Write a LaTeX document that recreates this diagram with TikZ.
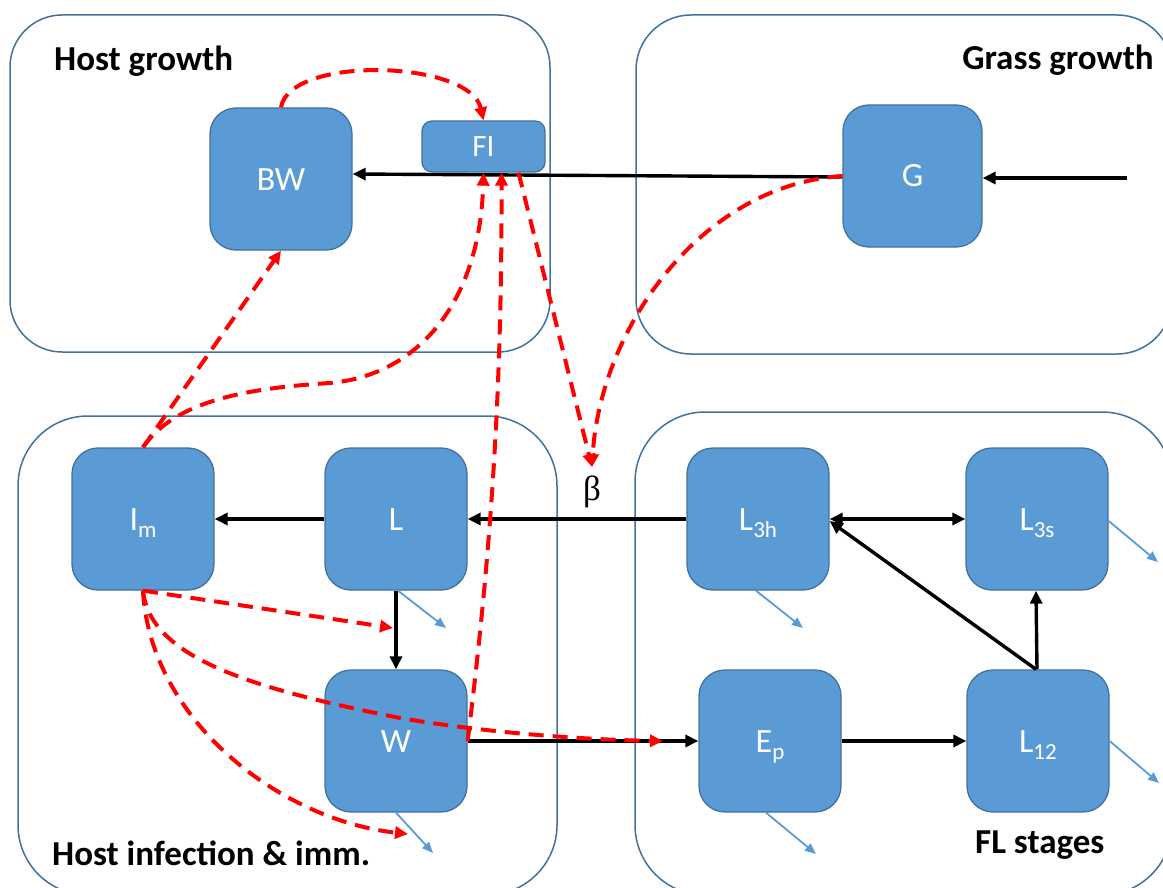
\documentclass[tikz,border=0pt]{standalone}
\usepackage{fontspec}
\setmainfont{Carlito}
\newfontfamily\greekserif{Liberation Serif}
\usetikzlibrary{arrows.meta,calc}
\definecolor{nodeblue}{HTML}{5B9BD5}
\definecolor{nodeedge}{HTML}{41719C}
\definecolor{panelline}{HTML}{41719C}
% lowered, smaller subscript for compartment names
\newcommand\lowsub[1]{\raisebox{-0.23em}{\fontsize{23}{24}\selectfont #1}}

\begin{document}
\begin{tikzpicture}[x=1pt,y=-1pt,
  panel/.style={draw=panelline, line width=1.5pt, rounded corners=#1},
  box/.style={draw=nodeedge, line width=1.3pt, fill=nodeblue, rounded corners=26pt,
    minimum width=142pt, minimum height=142pt, inner sep=0pt, text=white,
    font=\fontsize{34}{40}\selectfont, text height=22pt, text depth=0pt},
  title/.style={anchor=base west, font=\bfseries\fontsize{35}{40}\selectfont, inner sep=0pt},
  flow/.style={draw=black, line width=3.4pt, -{Triangle[length=13pt,width=12pt]}},
  flowboth/.style={draw=black, line width=3.4pt,
    {Triangle[length=13pt,width=12pt]}-{Triangle[length=13pt,width=12pt]}},
  effect/.style={draw=red, line width=4pt, dash pattern=on 15pt off 9pt,
    -{Triangle[length=13pt,width=12pt]}},
  loss/.style={draw=nodeblue, line width=1.8pt, -{Triangle[length=11pt,width=9pt]}}
]
\useasboundingbox (0,0) rectangle (1163,888);

% sub-model panels
\draw[panel=52pt] (10,15) rectangle (550,352);
\draw[panel=55pt] (636,15) rectangle (1172,354);
\draw[panel=70pt] (18,416) rectangle (557,895);
\draw[panel=70pt] (635,412) rectangle (1172,895);

\node[title] (thg) at (54,71) {Host growth};
\node[title, anchor=base east] (tgg) at (1154,70) {Grass growth};
\node[title] (thi) at (52,865) {Host infection \& imm.};
\node[title] (tfl) at (975,853) {FL stages};

% compartments
\node[box] (BW) at (281,179) {BW};
\node[box, minimum width=123pt, minimum height=51pt, rounded corners=10pt,
  font=\fontsize{31}{34}\selectfont, text height=20pt] (FI) at (483.5,146.5) {FI};
\node[box, minimum width=139pt] (G) at (912.5,176) {G};
\node[box] (Im) at (143,519) {I\lowsub{m}};
\node[box] (L) at (396,519) {L};
\node[box] (W) at (396,741) {W};
\node[box] (L3h) at (758,519) {L\lowsub{3h}};
\node[box] (L3s) at (1037,519) {L\lowsub{3s}};
\node[box] (Ep) at (770,741) {E\lowsub{p}};
\node[box] (L12) at (1038,741) {L\lowsub{12}};

\node[inner sep=0pt, font=\greekserif\fontsize{35}{40}\selectfont] (beta) at (592,492) {β};

% free ends
\coordinate (grassin) at (1127,178);
\coordinate (betain) at (592,467);
\coordinate (lw) at (393,628);
\coordinate (epin) at (663,741);
\coordinate (wbot) at (408,834);
\coordinate (mL) at (446,628);
\coordinate (mW) at (433,853);
\coordinate (mL3h) at (803,628);
\coordinate (mEp) at (816,854);
\coordinate (mL3s) at (1158,562);
\coordinate (mL12) at (1159,783);

% material flows
\draw[flow] (grassin) -- (grassin -| G.east);
\draw[flow] ([yshift=-1pt]G.west) -- ([yshift=5pt]BW.east);
\draw[flow] (L3h) -- (L);
\draw[flow] (L) -- (Im);
\draw[flow] (L) -- (W);
\draw[flow] (W) -- (Ep);
\draw[flow] (Ep) -- (L12);
\draw[flow] ([xshift=-1pt]L12.north) -- ([xshift=-1pt]L3s.south);
\draw[flow] ([xshift=-2pt]L12.north) -- ([yshift=-2pt]L3h.east);
\draw[flowboth] (L3h) -- (L3s);

% mortality
\draw[loss] ([xshift=2pt]L.south) -- (mL);
\draw[loss] (W.south) -- (mW);
\draw[loss] ([xshift=-2pt]L3h.south) -- (mL3h);
\draw[loss] ([xshift=-4pt]Ep.south) -- (mEp);
\draw[loss] ([yshift=-2pt]L3s.east) -- (mL3s);
\draw[loss] (L12.east) -- (mL12);

% feedback effects
\draw[effect] (BW.north) .. controls (290,55) and (470,60) .. (FI.north);
\draw[effect] (Im.north) -- (BW.south);
\draw[effect] (Im.north) .. controls (175,400) and (250,388) .. (330,383)
  .. controls (420,375) and (480,300) .. (FI.south);
\draw[effect] (W.east) .. controls (490,560) and (502,400) .. ([xshift=18pt]FI.south);
\draw[effect] ([xshift=35pt]FI.south) -- (betain);
\draw[effect] (G.west) .. controls (700,185) and (600,330) .. (betain);
\draw[effect] (Im.south) -- (lw);
\draw[effect] (Im.south) .. controls (150,660) and (260,690) .. (400,718)
  .. controls (500,735) and (600,740) .. (epin);
\draw[effect] (Im.south) .. controls (150,720) and (280,820) .. (wbot);
\end{tikzpicture}
\end{document}
